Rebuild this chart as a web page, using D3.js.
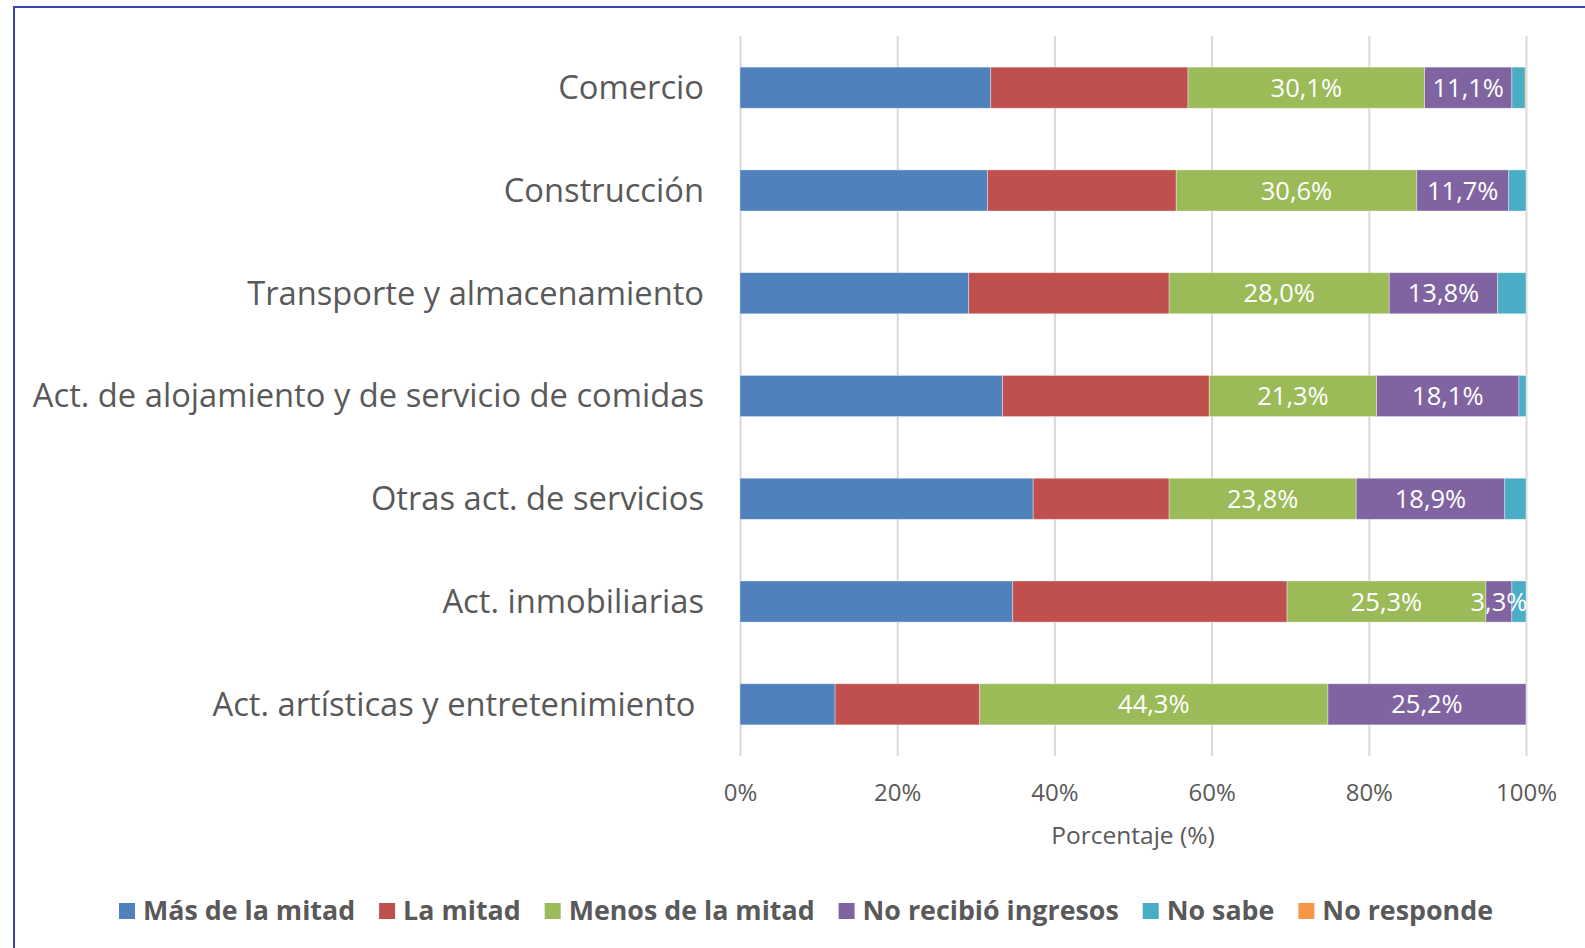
<!DOCTYPE html>
<html>
<head>
<meta charset="utf-8">
<script src="https://cdn.jsdelivr.net/npm/d3@7/dist/d3.min.js"></script>
<style>
  html, body { margin: 0; padding: 0; background: #fff; }
  svg { display: block; }
  text { font-family: "Open Sans", "Noto Sans", sans-serif; }
  .cat text { white-space: pre; }
</style>
</head>
<body>
<svg id="chart" width="1585" height="948"></svg>
<script>
// ---- Data ----
const categories = [
  "Comercio",
  "Construcción",
  "Transporte y almacenamiento",
  "Act. de alojamiento y de servicio de comidas",
  "Otras act. de servicios",
  "Act. inmobiliarias",
  "Act. artísticas y entretenimiento "
];
const seriesNames = ["Más de la mitad", "La mitad", "Menos de la mitad", "No recibió ingresos", "No sabe", "No responde"];
const masDeLaMitad   = [31.9, 31.5, 29.1, 33.4, 37.3, 34.7, 12.1];
const laMitad        = [25.1, 24.0, 25.5, 26.3, 17.3, 34.9, 18.4];
const menosDeLaMitad = [30.1, 30.6, 28.0, 21.3, 23.8, 25.3, 44.3];
const noRecibio      = [11.1, 11.7, 13.8, 18.1, 18.9, 3.3, 25.2];
const noSabe         = [1.7, 2.2, 3.6, 0.9, 2.7, 1.8, 0];
const noResponde     = [0.1, 0, 0, 0, 0, 0, 0];
const xTicks = [0, 20, 40, 60, 80, 100];
const labelledSeries = ["Menos de la mitad", "No recibió ingresos"];

const colors = ["#4f81bd", "#c0504d", "#9bbb59", "#8064a2", "#4bacc6", "#f79646"];
const seriesValues = [masDeLaMitad, laMitad, menosDeLaMitad, noRecibio, noSabe, noResponde];

const rows = categories.map((c, i) => {
  const r = { cat: c };
  seriesNames.forEach((s, k) => r[s] = seriesValues[k][i]);
  return r;
});

const svg = d3.select("#chart");

// frame border
svg.append("rect")
  .attr("x", 14).attr("y", 7).attr("width", 1620).attr("height", 1000)
  .attr("fill", "none").attr("stroke", "#3c44b4").attr("stroke-width", 2);

const x = d3.scaleLinear().domain([0, 100]).range([740, 1526]);
const y = d3.scaleBand().domain(categories).range([36.3, 755.7]).paddingInner(0.6).paddingOuter(0.3);
const color = d3.scaleOrdinal().domain(seriesNames).range(colors);

// gridlines + x labels
const xAxis = d3.axisBottom(x).tickValues(xTicks).tickFormat(d => d + "%")
  .tickSize(-(755.7 - 36.3)).tickPadding(28);
const gx = svg.append("g").attr("transform", "translate(0,755.7)").call(xAxis);
gx.select(".domain").remove();
gx.selectAll(".tick line").attr("stroke", "#d9d9d9").attr("stroke-width", 2);
gx.selectAll(".tick text").attr("fill", "#595959").attr("font-size", 24)
  .attr("font-family", "'Open Sans', sans-serif");

// x axis title
svg.append("text").attr("x", (x(0) + x(100)) / 2).attr("y", 834)
  .attr("text-anchor", "middle").attr("dominant-baseline", "central")
  .attr("fill", "#595959").attr("font-size", 24.5).text("Porcentaje (%)");

// category axis
const yAxis = d3.axisLeft(y).tickSize(0).tickPadding(36);
const gy = svg.append("g").attr("class", "cat").attr("transform", `translate(${x(0)},0)`).call(yAxis);
gy.select(".domain").remove();
gy.selectAll(".tick text").attr("fill", "#595959").attr("font-size", 32.7)
  .attr("font-family", "'Open Sans', sans-serif").attr("dy", "0.35em");

// stacked bars
const stack = d3.stack().keys(seriesNames);
const stacked = stack(rows);

const layers = svg.append("g").selectAll("g").data(stacked).join("g")
  .attr("fill", d => color(d.key));
layers.selectAll("rect").data(d => d).join("rect")
  .attr("x", d => x(d[0]))
  .attr("y", d => y(d.data.cat))
  .attr("width", d => Math.max(0, x(d[1]) - x(d[0])))
  .attr("height", y.bandwidth())
  .attr("stroke", "#ffffff").attr("stroke-opacity", 0.45).attr("stroke-width", 0.8);

// data labels
const fmt = v => v.toFixed(1).replace(".", ",") + "%";
const lab = svg.append("g");
stacked.filter(s => labelledSeries.includes(s.key)).forEach(s => {
  lab.selectAll(null).data(s.filter(d => d[1] - d[0] > 0)).join("text")
    .attr("x", d => (x(d[0]) + x(d[1])) / 2)
    .attr("y", d => y(d.data.cat) + y.bandwidth() / 2)
    .attr("dy", "0.36em")
    .attr("text-anchor", "middle")
    .attr("fill", "#ffffff")
    .attr("font-size", 25.5)
    .text(d => fmt(d[1] - d[0]));
});

// legend
const legend = svg.append("g");
const items = legend.selectAll("g").data(seriesNames).join("g");
items.append("rect").attr("width", 16).attr("height", 16).attr("y", -8).attr("fill", d => color(d));
items.append("text").attr("x", 24).attr("dy", "0.35em")
  .attr("font-size", 26.8).attr("font-weight", "bold").attr("fill", "#595959").text(d => d);
let cx = 0;
items.each(function () {
  const g = d3.select(this);
  const w = 24 + g.select("text").node().getComputedTextLength();
  g.attr("transform", `translate(${cx},0)`);
  cx += w + 24;
});
const total = cx - 24;
legend.attr("transform", `translate(${806 - total / 2},911)`);
</script>
</body>
</html>
